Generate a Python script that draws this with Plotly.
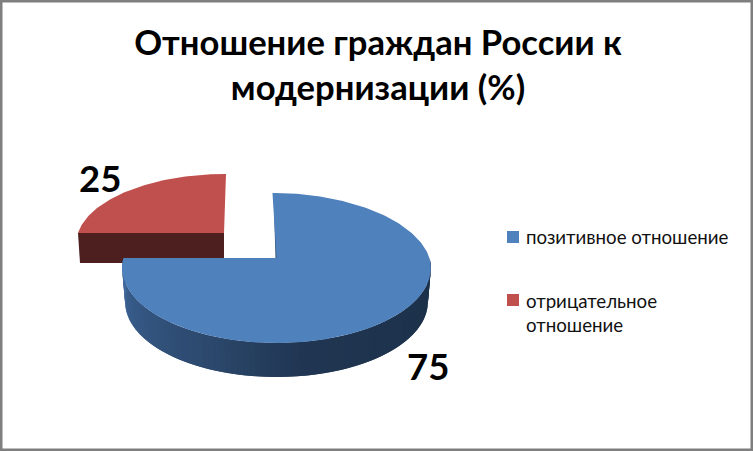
import numpy as np
import plotly.graph_objects as go

categories = ["позитивное отношение", "отрицательное<br>отношение"]
values = [75, 25]
colors = ["#4f81bd", "#c0504d"]
title = "Отношение граждан России к<br>модернизации (%)"

W, H = 753, 451
K = 0.133          # perspective factor
THICK = 34


def project(theta, cx, cy, rx, ry, lean):
    X, Y = np.cos(theta), np.sin(theta)
    s = 1 / (1 + K * Y)
    x = cx + rx * X * s + lean * np.clip(Y, 0, None)
    y = cy - ry * Y * s
    return x, y


def poly(x, y, color):
    return go.Scatter(x=list(x), y=list(y), mode="lines", fill="toself", fillcolor=color,
                      line=dict(color=color, width=0), hoverinfo="skip", showlegend=False)


def lerp(stops, t):
    pos = [s[0] for s in stops]
    rgb = [np.interp(t, pos, [s[1][i] for s in stops]) for i in range(3)]
    return "rgb(%d,%d,%d)" % tuple(rgb)


total = sum(values)
fractions = [v / total for v in values]
a0 = np.pi / 2
a1 = a0 - 2 * np.pi * fractions[0]
a2 = a1 - 2 * np.pi * fractions[1]

fig = go.Figure()

# exploded slice (second value)
red = dict(cx=224, cy=233, rx=146, ry=66.9, lean=2)
th = np.linspace(a1, a2, 80)
px, py = project(th, **red)
fig.add_trace(poly([red["cx"], px[0], px[0] + 2, red["cx"]],
                   [red["cy"], py[0], py[0] + 30, red["cy"] + 30], "#4d1f1f"))
fig.add_trace(poly(np.r_[red["cx"], px], np.r_[red["cy"], py], colors[1]))

# big slice (first value)
blue = dict(cx=276.5, cy=258, rx=153, ry=73.7, lean=-4)
blue_low = dict(cx=276.5, cy=258 + THICK, rx=150, ry=73.7, lean=0)
vis = np.linspace(0, a1, 90)
stops = [(0.0, (28, 48, 72)), (0.45, (32, 54, 82)), (0.62, (44, 72, 108)),
         (0.85, (54, 90, 135)), (1.0, (66, 106, 158))]
for i in range(len(vis) - 1):
    # each band runs on under the next one, so no seams show between them
    tt = np.linspace(vis[i], vis[min(i + 2, len(vis) - 1)], 4)
    ux, uy = project(tt, **blue)
    lx, ly = project(tt, **blue_low)
    fig.add_trace(poly(np.r_[ux, lx[::-1]], np.r_[uy, ly[::-1]], lerp(stops, i / (len(vis) - 2))))
th = np.linspace(a0, a1, 240)
px, py = project(th, **blue)
# sliver of the cut face along the vertical radius
fig.add_trace(poly([px[0] + 1, blue["cx"] - 1, blue["cx"] + 1, px[0] + 2],
                   [py[0], blue["cy"], blue["cy"], py[0]], "#2b4a70"))
fig.add_trace(poly(np.r_[blue["cx"], px], np.r_[blue["cy"], py], colors[0]))

# key: squares and their texts
key_y = [237, 300]
text_y = [237, 313]
fig.add_trace(go.Scatter(x=[513, 513], y=key_y, mode="markers", hoverinfo="skip", showlegend=False,
                         marker=dict(symbol="square", size=12, color=colors)))
key_notes = [dict(x=524, y=ty, text=c, showarrow=False, xanchor="left", align="left",
                  font=dict(family="Lato", size=18.7, color="#111111"))
             for c, ty in zip(categories, text_y)]

fig.update_layout(
    width=W, height=H, margin=dict(l=0, r=0, t=0, b=0), showlegend=False,
    paper_bgcolor="white", plot_bgcolor="white",
    xaxis=dict(range=[0, W], visible=False, fixedrange=True),
    yaxis=dict(range=[H, 0], visible=False, fixedrange=True),
    title=dict(text="<b>%s</b>" % title, x=378 / W, xanchor="center", y=1 - 55 / H, yanchor="top",
               font=dict(family="Lato", size=34.6, color="black")),
    shapes=[dict(type="rect", xref="paper", yref="paper", x0=0, x1=1, y0=0, y1=1,
                 line=dict(color="#7f7f7f", width=5), fillcolor="rgba(0,0,0,0)")],
    annotations=key_notes + [
        dict(x=428, y=366, text="<b>%d</b>" % values[0], showarrow=False,
             font=dict(family="Lato", size=36.5, color="black")),
        dict(x=100, y=178, text="<b>%d</b>" % values[1], showarrow=False,
             font=dict(family="Lato", size=36.5, color="black")),
    ],
)
fig.write_html("out.html", post_script="document.body.style.margin='0';",
               config={"displayModeBar": False})
